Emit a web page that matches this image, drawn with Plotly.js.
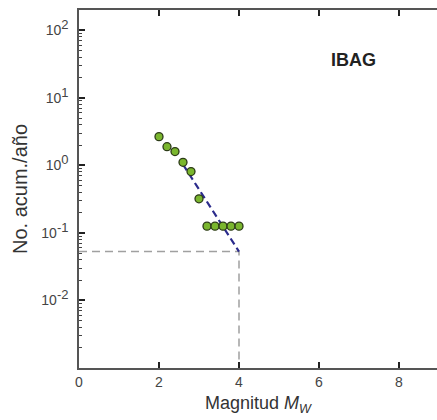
<!DOCTYPE html>
<html><head><meta charset="utf-8">
<script src="https://cdn.plot.ly/plotly-3.0.1.min.js"></script>
<style>html,body{margin:0;padding:0;background:#fff}</style>
</head><body>
<div id="chart" style="width:437px;height:420px"></div>
<script>
// Observed cumulative annual rates
const magnitudes = [2.0, 2.2, 2.4, 2.6, 2.8, 3.0, 3.2, 3.4, 3.6, 3.8, 4.0];
const cumRates   = [2.66, 1.89, 1.6, 1.11, 0.81, 0.32, 0.126, 0.126, 0.126, 0.126, 0.126];
// Gutenberg-Richter fit
const fitMags  = [2.6, 4.0];
const fitRates = [1.03, 0.053];
// Reference (Mmax) guide lines
const guideMags  = [0, 4, 4];
const guideRates = [0.053, 0.053, 0.001];
const yTickVals = [0.01, 0.1, 1, 10, 100];
const yExponents = ['-2', '-1', '0', '1', '2'];
const xTickVals = [0, 2, 4, 6, 8];
const panelLabel = 'IBAG';

const yTickText = yExponents.map(e => '10<sup><span style="font-size:13px">' + e + '</span></sup>');

// minor tick positions (2..9 within each decade)
const minorVals = [];
[0.001, 0.01, 0.1, 1, 10, 100].forEach(d => { for (let k = 2; k <= 9; k++) minorVals.push(d * k); });

const traces = [
  {x: guideMags, y: guideRates, mode: 'lines', line: {color: '#a0a0a0', width: 1.5, dash: '8px,5px'}, hoverinfo: 'skip'},
  {x: fitMags, y: fitRates, mode: 'lines', line: {color: '#2b2b8c', width: 2.2, dash: '7px,4px'}},
  {x: magnitudes, y: cumRates, mode: 'markers', marker: {size: 8, color: '#7ab62e', line: {color: '#2c3a18', width: 1.3}}}
];

const layout = {
  width: 437, height: 420,
  margin: {l: 79, r: 0, t: 10, b: 52},
  showlegend: false,
  font: {family: 'Liberation Sans, Arial, sans-serif', color: '#333'},
  xaxis: {
    range: [0, 8.95], tickmode: 'array', tickvals: xTickVals, ticktext: xTickVals.map(String),
    ticks: 'inside', ticklen: 6, tickcolor: '#222', tickwidth: 2,
    showline: true, linecolor: '#555', linewidth: 1.5, mirror: 'ticks',
    showgrid: false, zeroline: false,
    tickfont: {size: 14, color: '#444'},
    title: {text: 'Magnitud <i>M<sub>W</sub></i>', font: {size: 18, color: '#333'}, standoff: 8}
  },
  yaxis: {
    type: 'log', range: [-3, 2.3], tickmode: 'array', tickvals: yTickVals, ticktext: yTickText,
    ticks: 'inside', ticklen: 6, tickcolor: '#222', tickwidth: 2,
    showline: true, linecolor: '#555', linewidth: 1.5, mirror: false,
    showgrid: false, zeroline: false,
    tickfont: {size: 14, color: '#444'},
    ticklabelstandoff: 6,
    minor: {tickmode: 'array', tickvals: minorVals, ticks: 'inside', ticklen: 3, tickcolor: '#444', tickwidth: 1, showgrid: false},
    title: {text: 'No. acum./año', font: {size: 20, color: '#333'}, standoff: 8}
  },
  annotations: [{
    xref: 'paper', yref: 'paper', x: 0.835, y: 0.893, showarrow: false,
    text: '<b>' + panelLabel + '</b>', font: {size: 18, color: '#222'}
  }]
};

Plotly.newPlot('chart', traces, layout, {displayModeBar: false});
</script>
</body></html>
